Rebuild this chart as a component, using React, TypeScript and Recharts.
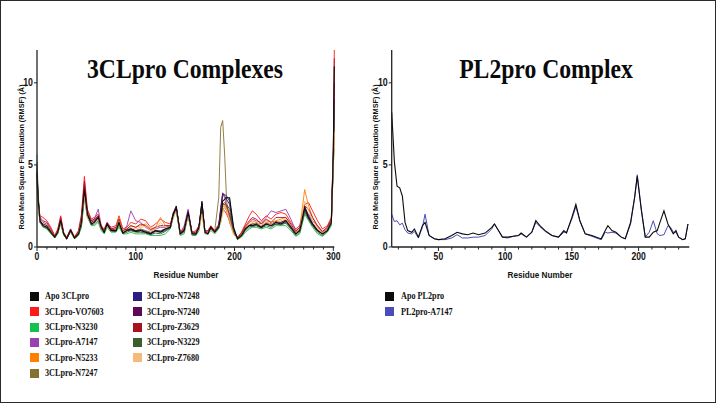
import React from 'react';
import { LineChart, Line, XAxis, YAxis } from 'recharts';

// 3CLpro residues (sampled at the visible peaks / troughs)
const RES_3CL = [0, 1, 3, 6, 10, 14, 18, 21, 24, 27,
  30, 34, 38, 42, 45, 48, 51, 55, 58, 62,
  65, 68, 71, 75, 80, 83, 87, 91, 95, 100,
  105, 110, 115, 120, 125, 130, 135, 138, 141, 145,
  149, 153, 157, 161, 164, 167, 170, 173, 176, 180,
  184, 186, 188, 190, 192, 195, 199, 203, 207, 211,
  215, 218, 222, 227, 232, 237, 242, 247, 252, 257,
  262, 266, 271, 275, 279, 284, 289, 294, 298, 300,
  301];

const APO_3CL = [4.5, 3.0, 1.6, 1.3, 1.2, 0.9, 0.6, 0.9, 1.6, 0.8,
  0.5, 1.0, 0.55, 0.8, 1.5, 3.5, 2.0, 1.4, 1.5, 1.8,
  1.2, 0.9, 1.4, 1.0, 1.0, 1.5, 0.85, 1.0, 1.1, 0.95,
  1.0, 0.9, 0.8, 1.0, 0.9, 1.1, 1.2, 2.0, 2.4, 0.8,
  1.0, 2.1, 0.8, 0.8, 1.2, 2.7, 0.9, 0.8, 1.2, 0.9,
  1.2, 1.8, 2.8, 2.9, 3.0, 3.0, 1.2, 0.5, 0.7, 1.1,
  1.3, 1.3, 1.4, 1.2, 1.4, 1.3, 1.5, 1.4, 1.6, 1.2,
  0.8, 1.0, 2.4, 1.8, 1.4, 1.0, 0.8, 1.0, 1.5, 5.5,
  11.0];

const VO7603 = [4.0, 2.8, 1.9, 1.8, 1.6, 1.2, 0.7, 1.1, 1.9, 0.9,
  0.6, 1.1, 0.6, 1.0, 2.0, 4.3, 2.3, 1.7, 1.8, 2.0,
  1.3, 1.1, 1.5, 1.2, 1.3, 1.9, 1.1, 1.2, 1.5, 1.4,
  1.7, 1.6, 1.2, 1.4, 1.7, 1.5, 1.4, 2.1, 2.4, 0.9,
  1.2, 2.0, 0.9, 1.0, 1.3, 2.3, 1.0, 1.0, 1.3, 1.0,
  1.3, 1.8, 2.3, 2.2, 2.0, 1.6, 0.9, 0.6, 0.9, 1.4,
  1.9, 2.2, 2.0, 1.6, 1.9, 1.7, 2.0, 2.1, 2.0, 1.5,
  1.1, 1.3, 2.6, 2.7, 2.2, 1.6, 1.1, 1.3, 1.8, 6.0,
  12.0];

const N3230 = [5.6, 3.5, 1.5, 1.2, 1.1, 0.8, 0.55, 0.8, 1.4, 0.7,
  0.5, 0.9, 0.5, 0.7, 1.2, 3.0, 1.8, 1.3, 1.3, 1.5,
  1.0, 0.8, 1.2, 0.9, 0.9, 1.2, 0.8, 0.8, 0.9, 0.8,
  0.8, 0.8, 0.7, 0.7, 0.7, 0.8, 1.1, 1.8, 2.2, 0.7,
  0.8, 1.9, 0.7, 0.7, 1.0, 2.3, 0.8, 0.8, 1.0, 0.8,
  1.1, 1.5, 2.3, 2.4, 2.2, 1.8, 0.9, 0.45, 0.6, 0.9,
  1.1, 1.2, 1.2, 1.1, 1.2, 1.1, 1.3, 1.3, 1.3, 1.0,
  0.65, 0.8, 2.0, 1.6, 1.2, 0.8, 0.65, 0.9, 1.3, 5.0,
  6.0];

const A7147 = [5.2, 3.2, 1.7, 1.5, 1.4, 1.0, 0.6, 0.9, 1.7, 0.8,
  0.5, 1.1, 0.55, 0.9, 1.6, 3.8, 2.0, 1.6, 1.7, 2.3,
  1.3, 1.0, 1.5, 1.1, 1.1, 1.6, 0.9, 1.3, 2.2, 1.6,
  1.5, 1.2, 1.0, 1.1, 1.2, 1.2, 1.3, 2.1, 2.5, 0.8,
  1.3, 2.3, 0.9, 0.9, 1.3, 2.6, 1.0, 1.0, 1.2, 1.0,
  1.4, 2.2, 3.2, 3.0, 2.4, 1.9, 1.0, 0.5, 0.8, 1.2,
  1.5, 1.7, 1.6, 1.5, 1.8, 2.2, 2.1, 2.2, 2.3, 1.7,
  1.0, 1.2, 2.2, 2.0, 1.6, 1.3, 0.9, 1.2, 1.6, 5.2,
  8.2];

const N5233 = [3.8, 2.6, 1.6, 1.4, 1.3, 1.0, 0.6, 0.9, 1.6, 0.8,
  0.5, 1.0, 0.55, 0.9, 1.6, 3.3, 1.9, 1.5, 1.6, 1.9,
  1.2, 1.0, 1.3, 1.0, 1.1, 1.8, 1.0, 1.1, 1.3, 1.2,
  1.3, 1.4, 1.1, 1.2, 1.8, 1.3, 1.3, 1.9, 2.3, 0.8,
  1.0, 2.0, 0.8, 0.9, 1.1, 2.1, 0.9, 0.9, 1.1, 0.9,
  1.3, 1.7, 2.4, 2.6, 2.2, 1.5, 0.8, 0.55, 0.8, 1.2,
  1.5, 1.6, 1.5, 1.4, 1.6, 1.5, 1.6, 1.7, 1.8, 1.3,
  0.9, 1.1, 3.5, 2.5, 1.8, 1.2, 0.9, 1.1, 1.6, 5.0,
  7.5];

const N7247 = [4.8, 3.0, 1.5, 1.3, 1.2, 0.9, 0.6, 0.9, 1.5, 0.8,
  0.5, 1.0, 0.5, 0.8, 1.4, 3.4, 1.9, 1.4, 1.5, 1.7,
  1.1, 0.9, 1.3, 1.0, 1.0, 1.5, 0.9, 1.0, 1.1, 1.0,
  1.1, 1.0, 0.9, 1.0, 1.0, 1.1, 1.2, 1.9, 2.3, 0.8,
  1.0, 2.0, 0.8, 0.8, 1.1, 2.4, 0.9, 0.9, 1.1, 1.0,
  3.0, 7.3, 7.7, 5.6, 2.8, 1.5, 0.9, 0.5, 0.7, 1.1,
  1.3, 1.4, 1.4, 1.3, 1.5, 1.4, 1.5, 1.5, 1.6, 1.2,
  0.8, 1.0, 2.2, 1.8, 1.4, 1.0, 0.8, 1.0, 1.5, 5.0,
  7.0];

const N7248 = [4.6, 3.0, 1.5, 1.3, 1.2, 0.9, 0.6, 0.9, 1.6, 0.8,
  0.5, 1.0, 0.55, 0.8, 1.5, 3.6, 2.0, 1.4, 1.5, 1.8,
  1.2, 0.9, 1.4, 1.0, 1.0, 1.5, 0.85, 1.0, 1.0, 0.95,
  1.0, 0.9, 0.8, 0.95, 0.9, 1.0, 1.2, 2.0, 2.4, 0.8,
  1.0, 2.1, 0.8, 0.8, 1.2, 2.7, 0.9, 0.8, 1.2, 0.9,
  1.3, 2.3, 3.2, 3.2, 3.1, 2.8, 1.1, 0.5, 0.7, 1.1,
  1.3, 1.3, 1.3, 1.2, 1.4, 1.3, 1.4, 1.4, 1.5, 1.2,
  0.8, 1.0, 2.3, 1.7, 1.3, 1.0, 0.8, 1.0, 1.5, 5.3,
  9.0];

const N7240 = [4.7, 3.0, 1.6, 1.4, 1.3, 0.95, 0.6, 0.9, 1.6, 0.8,
  0.5, 1.0, 0.55, 0.85, 1.5, 3.7, 2.0, 1.5, 1.6, 1.9,
  1.2, 0.95, 1.4, 1.05, 1.05, 1.6, 0.9, 1.05, 1.15, 1.0,
  1.05, 0.95, 0.85, 1.0, 0.95, 1.1, 1.25, 2.0, 2.5, 0.8,
  1.05, 2.2, 0.8, 0.85, 1.2, 2.8, 0.9, 0.85, 1.2, 0.95,
  1.3, 2.4, 3.3, 3.1, 2.9, 2.6, 1.1, 0.5, 0.75, 1.15,
  1.35, 1.4, 1.45, 1.25, 1.45, 1.4, 1.55, 1.5, 1.65, 1.25,
  0.85, 1.05, 2.5, 1.9, 1.45, 1.05, 0.85, 1.05, 1.55, 5.6,
  10.0];

const Z3629 = [4.3, 2.9, 1.8, 1.6, 1.5, 1.1, 0.65, 1.0, 1.8, 0.85,
  0.55, 1.05, 0.6, 0.95, 1.8, 4.0, 2.2, 1.6, 1.7, 1.9,
  1.25, 1.0, 1.45, 1.1, 1.2, 1.7, 1.0, 1.1, 1.3, 1.2,
  1.4, 1.3, 1.05, 1.2, 1.3, 1.3, 1.3, 2.0, 2.4, 0.85,
  1.1, 2.1, 0.85, 0.9, 1.25, 2.5, 0.95, 0.9, 1.25, 0.95,
  1.3, 1.9, 2.6, 2.6, 2.5, 2.0, 1.0, 0.55, 0.85, 1.3,
  1.6, 1.8, 1.7, 1.4, 1.7, 1.5, 1.8, 1.8, 1.8, 1.4,
  0.95, 1.2, 2.5, 2.3, 1.8, 1.3, 0.95, 1.2, 1.7, 5.8,
  11.5];

const N3229 = [5.0, 3.2, 1.5, 1.25, 1.15, 0.85, 0.55, 0.85, 1.5, 0.75,
  0.5, 0.95, 0.5, 0.75, 1.3, 3.2, 1.9, 1.35, 1.4, 1.6,
  1.1, 0.85, 1.3, 0.95, 0.95, 1.35, 0.8, 0.9, 1.0, 0.9,
  0.9, 0.85, 0.75, 0.85, 0.8, 0.95, 1.15, 1.9, 2.3, 0.75,
  0.9, 2.0, 0.75, 0.75, 1.1, 2.5, 0.85, 0.8, 1.1, 0.85,
  1.2, 1.7, 2.6, 2.7, 2.6, 2.3, 1.0, 0.5, 0.65, 1.0,
  1.2, 1.25, 1.3, 1.15, 1.3, 1.2, 1.4, 1.35, 1.45, 1.1,
  0.7, 0.9, 2.1, 1.7, 1.3, 0.9, 0.7, 0.95, 1.4, 5.2,
  8.5];

const Z7680 = [3.6, 2.5, 1.5, 1.3, 1.2, 0.9, 0.6, 0.85, 1.5, 0.75,
  0.5, 0.95, 0.5, 0.85, 1.5, 3.1, 1.8, 1.4, 1.5, 1.7,
  1.1, 0.95, 1.25, 0.95, 1.05, 1.6, 0.95, 1.0, 1.15, 1.1,
  1.2, 1.25, 1.0, 1.1, 1.5, 1.2, 1.2, 1.8, 2.2, 0.75,
  0.95, 1.9, 0.75, 0.85, 1.05, 2.0, 0.85, 0.85, 1.05, 0.85,
  1.2, 1.5, 2.0, 2.5, 2.3, 1.6, 0.75, 0.5, 0.75, 1.1,
  1.4, 1.5, 1.4, 1.3, 1.5, 1.4, 1.5, 1.6, 1.7, 1.2,
  0.85, 1.0, 2.8, 2.2, 1.6, 1.1, 0.85, 1.05, 1.5, 4.8,
  7.0];

// PL2pro
const RES_PL2 = [15, 17, 19, 21, 23, 25, 27, 30, 32, 35,
  38, 40, 43, 47, 50, 55, 60, 64, 68, 72,
  76, 80, 85, 90, 92, 95, 98, 102, 106, 110,
  112, 116, 120, 123, 126, 130, 135, 140, 144, 146,
  150, 153, 156, 160, 165, 170, 172, 175, 177, 180,
  183, 187, 190, 194, 197, 199, 202, 205, 208, 211,
  214, 216, 219, 222, 224, 226, 228, 230, 233, 235,
  237];

const APO_PL2 = [8.2, 5.2, 3.7, 3.6, 3.1, 1.5, 1.0, 0.9, 1.1, 0.6,
  1.3, 1.5, 0.7, 0.5, 0.45, 0.5, 0.7, 0.9, 0.8, 0.75,
  0.85, 0.75, 0.85, 1.2, 1.4, 1.0, 0.6, 0.6, 0.65, 0.7,
  0.85, 0.6, 0.9, 1.6, 1.3, 1.0, 0.7, 0.6, 1.0, 0.85,
  1.8, 2.6, 1.6, 0.8, 0.7, 0.55, 0.5, 1.0, 1.3, 1.0,
  0.9, 0.6, 0.5, 1.5, 3.0, 4.3, 2.3, 0.6, 0.6, 0.9,
  1.0, 1.5, 2.2, 1.4, 1.1, 0.8, 1.0, 0.6, 0.45, 0.5,
  1.4];

const PL2_A7147 = [2.0, 1.55, 1.6, 1.35, 1.45, 1.05, 0.85, 0.8, 0.95, 0.55,
  1.2, 2.0, 0.7, 0.5, 0.45, 0.45, 0.55, 0.75, 0.55, 0.55,
  0.6, 0.6, 0.7, 1.1, 1.4, 1.0, 0.6, 0.55, 0.65, 0.7,
  0.8, 0.6, 0.9, 1.5, 1.25, 0.95, 0.7, 0.6, 0.9, 0.9,
  1.7, 2.45, 1.6, 0.8, 0.65, 0.5, 0.45, 0.9, 0.85, 0.9,
  0.85, 0.6, 0.5, 1.4, 3.0, 4.4, 2.3, 0.6, 0.9, 1.6,
  0.8, 0.7, 0.75, 1.3, 1.2, 0.9, 0.9, 0.6, 0.45, 0.5,
  1.4];

const SERIES_3CL = [
  { key: 'vo7603', name: '3CLpro-VO7603', color: '#ff1a1a', values: VO7603 },
  { key: 'n3230', name: '3CLpro-N3230', color: '#16c04c', values: N3230 },
  { key: 'a7147', name: '3CLpro-A7147', color: '#9a40b0', values: A7147 },
  { key: 'n5233', name: '3CLpro-N5233', color: '#ff8000', values: N5233 },
  { key: 'n7247', name: '3CLpro-N7247', color: '#857230', values: N7247 },
  { key: 'n7248', name: '3CLpro-N7248', color: '#2a1e80', values: N7248 },
  { key: 'n7240', name: '3CLpro-N7240', color: '#5c0a55', values: N7240 },
  { key: 'z3629', name: '3CLpro-Z3629', color: '#a8121e', values: Z3629 },
  { key: 'n3229', name: '3CLpro-N3229', color: '#3a5e2c', values: N3229 },
  { key: 'z7680', name: '3CLpro-Z7680', color: '#f6b97c', values: Z7680 },
];
const APO_COLOR = '#0b0b0b';
const BLUE = '#4a4cb8';

const LEGEND_COL1 = [
  { name: 'Apo 3CLpro', color: APO_COLOR },
  { name: '3CLpro-VO7603', color: '#ff1a1a' },
  { name: '3CLpro-N3230', color: '#16c04c' },
  { name: '3CLpro-A7147', color: '#9a40b0' },
  { name: '3CLpro-N5233', color: '#ff8000' },
  { name: '3CLpro-N7247', color: '#857230' },
];
const LEGEND_COL2 = [
  { name: '3CLpro-N7248', color: '#2a1e80' },
  { name: '3CLpro-N7240', color: '#5c0a55' },
  { name: '3CLpro-Z3629', color: '#a8121e' },
  { name: '3CLpro-N3229', color: '#3a5e2c' },
  { name: '3CLpro-Z7680', color: '#f6b97c' },
];
const LEGEND_PL2 = [
  { name: 'Apo PL2pro', color: APO_COLOR },
  { name: 'PL2pro-A7147', color: BLUE },
];

const X_TICKS_3CL = [0, 10, 20, 30, 40, 50, 60, 70, 80, 90, 100, 110, 120, 130, 140, 150, 160, 170, 180, 190, 200, 210, 220, 230, 240, 250, 260, 270, 280, 290, 300];
const X_TICKS_PL2 = [20, 30, 40, 50, 60, 70, 80, 90, 100, 110, 120, 130, 140, 150, 160, 170, 180, 190, 200, 210, 220, 230];
const Y_TICKS = [0, 5, 10];

const data3CL = RES_3CL.map((r, i) => {
  const row: any = { r, apo: APO_3CL[i] };
  SERIES_3CL.forEach(s => { row[s.key] = s.values[i]; });
  return row;
});
const dataPL2 = RES_PL2.map((r, i) => ({ r, apo: APO_PL2[i], a7147: PL2_A7147[i] }));

const SANS = '"Liberation Sans", Arial, sans-serif';
const SERIF = '"Liberation Serif", "Times New Roman", serif';
const AXIS = '#222';

const XTick = ({ x, y, payload, major }: any) => {
  const isMajor = payload.value % major === 0;
  return (
    <g>
      <line x1={x} x2={x} y1={y} y2={y + (isMajor ? 4 : 2.5)} stroke={AXIS} strokeWidth={1} />
      {isMajor && (
        <text x={x} y={y + 13.5} textAnchor="middle" fontSize={10} fontWeight="bold" fontFamily={SANS} fill="#111"
          transform={`translate(${x} 0) scale(0.86 1) translate(${-x} 0)`}>
          {payload.value}
        </text>
      )}
    </g>
  );
};

const YTick = ({ x, y, payload }: any) => (
  <g>
    <line x1={x - 3} x2={x} y1={y} y2={y} stroke={AXIS} strokeWidth={1} />
    <text x={x - 4} y={y + 3.5} textAnchor="end" fontSize={10} fontWeight="bold" fontFamily={SANS} fill="#111"
      transform={`translate(${x - 4} 0) scale(0.88 1) translate(${-(x - 4)} 0)`}>
      {payload.value}
    </text>
  </g>
);

const Title = ({ text, cx }: { text: string; cx: number }) => (
  <div style={{
    position: 'absolute', left: cx - 150, top: 55.3, width: 300, textAlign: 'center',
    fontFamily: SERIF, fontWeight: 'bold', fontSize: 27.5, lineHeight: '27.5px', color: '#0a0a0a',
    transform: 'scaleX(0.86)', whiteSpace: 'nowrap',
  }}>{text}</div>
);

const YLabel = ({ cx }: { cx: number }) => (
  <div style={{
    position: 'absolute', left: cx - 100, top: 156.5 - 5, width: 200, height: 10, lineHeight: '10px',
    textAlign: 'center', fontFamily: SANS, fontWeight: 'bold', fontSize: 7.3, color: '#111',
    transform: 'rotate(-90deg) scaleY(0.9)', whiteSpace: 'nowrap',
  }}>Root Mean Square Fluctuation (RMSF) (Å)</div>
);

const XLabel = ({ cx }: { cx: number }) => (
  <div style={{
    position: 'absolute', left: cx - 60, top: 275.3 - 6, width: 120, height: 12, lineHeight: '12px',
    textAlign: 'center', fontFamily: SANS, fontWeight: 'bold', fontSize: 9.5, color: '#111',
    transform: 'scaleX(0.86)', whiteSpace: 'nowrap',
  }}>Residue Number</div>
);

const LegendItem = ({ name, color, sx, tx, cy }: any) => (
  <>
    <div style={{ position: 'absolute', left: sx, top: cy - 4.5, width: 9, height: 9, background: color }} />
    <div style={{
      position: 'absolute', left: tx, top: cy - 6, height: 12, lineHeight: '12px',
      fontFamily: SERIF, fontWeight: 'bold', fontSize: 9.5, color: '#111',
      transform: 'scaleX(0.86)', transformOrigin: 'left center', whiteSpace: 'nowrap',
    }}>{name}</div>
  </>
);

const ROWS = [296, 311.5, 327, 342.3, 357.6, 373];

export default function App() {
  return (
    <div style={{ position: 'absolute', left: 0, top: 0, width: 718, height: 404, background: '#fff', overflow: 'hidden' }}>
      <div style={{ position: 'absolute', left: 0, top: 0, width: 715.5, height: 403, border: '1.5px solid #2a2a2a', boxSizing: 'border-box' }} />

      <div style={{ position: 'absolute', left: 0, top: 0 }}>
        <LineChart width={360} height={270} data={data3CL} margin={{ top: 50, right: 25.7, bottom: 0, left: 17 }}>
          <XAxis dataKey="r" type="number" domain={[0, 301]} ticks={X_TICKS_3CL} interval={0} height={23}
            tickSize={0} tickMargin={0} tickLine={false} axisLine={{ stroke: AXIS, strokeWidth: 1.3 }}
            tick={(p: any) => <XTick {...p} major={100} />} />
          <YAxis type="number" domain={[0, 12]} ticks={Y_TICKS} interval={0} width={20}
            tickSize={0} tickMargin={0} tickLine={false} axisLine={{ stroke: AXIS, strokeWidth: 1.3 }}
            tick={(p: any) => <YTick {...p} />} />
          {SERIES_3CL.map(s => (
            <Line key={s.key} dataKey={s.key} name={s.name} stroke={s.color} strokeWidth={0.9} dot={false}
              type="linear" isAnimationActive={false} />
          ))}
          <Line dataKey="apo" name="Apo 3CLpro" stroke={APO_COLOR} strokeWidth={1.1} dot={false} type="linear" isAnimationActive={false} />
        </LineChart>
      </div>

      <div style={{ position: 'absolute', left: 360, top: 0 }}>
        <LineChart width={358} height={270} data={dataPL2} margin={{ top: 50, right: 28.7, bottom: 0, left: 11.7 }}>
          <XAxis dataKey="r" type="number" domain={[15, 238]} ticks={X_TICKS_PL2} interval={0} height={23}
            tickSize={0} tickMargin={0} tickLine={false} axisLine={{ stroke: AXIS, strokeWidth: 1.3 }}
            tick={(p: any) => <XTick {...p} major={50} />} />
          <YAxis type="number" domain={[0, 12]} ticks={Y_TICKS} interval={0} width={20}
            tickSize={0} tickMargin={0} tickLine={false} axisLine={{ stroke: AXIS, strokeWidth: 1.3 }}
            tick={(p: any) => <YTick {...p} />} />
          <Line dataKey="a7147" name="PL2pro-A7147" stroke={BLUE} strokeWidth={1} dot={false} type="linear" isAnimationActive={false} />
          <Line dataKey="apo" name="Apo PL2pro" stroke={APO_COLOR} strokeWidth={1.1} dot={false} type="linear" isAnimationActive={false} />
        </LineChart>
      </div>

      <Title text="3CLpro Complexes" cx={184.5} />
      <Title text="PL2pro Complex" cx={545.5} />
      <YLabel cx={21.7} />
      <YLabel cx={375.5} />
      <XLabel cx={185.8} />
      <XLabel cx={540} />

      {LEGEND_COL1.map((it, i) => <LegendItem key={it.name} {...it} sx={30} tx={45} cy={ROWS[i]} />)}
      {LEGEND_COL2.map((it, i) => <LegendItem key={it.name} {...it} sx={132.7} tx={147} cy={ROWS[i]} />)}
      {LEGEND_PL2.map((it, i) => <LegendItem key={it.name} {...it} sx={385.3} tx={400.7} cy={ROWS[i]} />)}
    </div>
  );
}
